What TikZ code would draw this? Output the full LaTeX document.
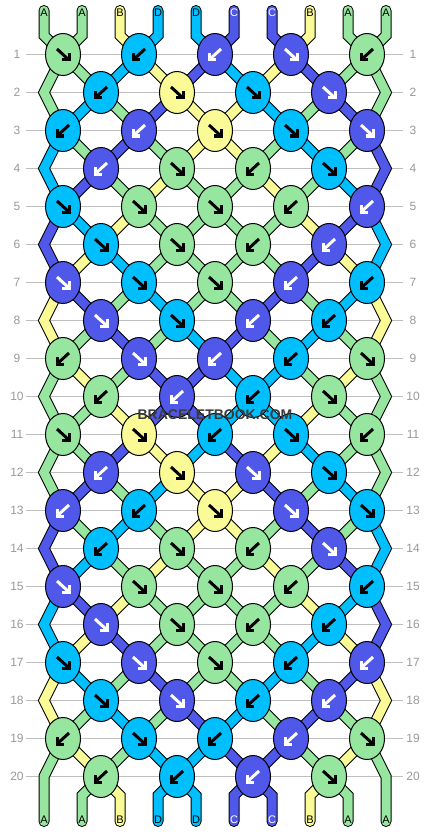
\documentclass[tikz,border=0pt]{standalone}
\usepackage{fontspec}
\setmainfont{Liberation Sans}
\usetikzlibrary{shapes.geometric}
\definecolor{colA}{HTML}{96E6A0}
\definecolor{colB}{HTML}{FAFA96}
\definecolor{colC}{HTML}{5058EA}
\definecolor{colD}{HTML}{00BFFF}
\definecolor{rowline}{HTML}{BEBEBE}
\definecolor{rowtext}{HTML}{999999}
\definecolor{wmtext}{HTML}{3A3A3A}
\tikzset{
  str/.style={line width=1pt, draw=black, double=#1, double distance=9pt, line join=miter, line cap=round},
  knot/.style={ellipse, draw=black, line width=1pt, minimum width=35pt, minimum height=42pt, inner sep=0pt},
  arrowline/.style={line width=3pt, line cap=butt, line join=miter},
  fwd/.pic={\draw[arrowline] (-6,-5.5) -- (4.8,4.4); \draw[arrowline] (-0.8,5.5) -- (6,5.5) -- (6,-1.3);},
  bwd/.pic={\draw[arrowline] (6,-5.5) -- (-4.8,4.4); \draw[arrowline] (0.8,5.5) -- (-6,5.5) -- (-6,-1.3);},
  rowlab/.style={text=rowtext, font=\fontsize{12}{14}\selectfont, inner sep=0pt},
  rowrule/.style={draw=rowline, line width=1pt},
  strlab/.style={font=\fontsize{11}{13}\selectfont, inner sep=0pt},
  wm/.style={font=\fontsize{14}{16}\selectfont\bfseries, inner sep=0pt}
}
\newcommand\segrow[2]{%
  \foreach \sc [count=\p from 0] in {#2} {%
    \ifnum\p>0 \ifnum\p<9
      \pgfmathtruncatemacro\segA{floor(\p/2)}%
      \pgfmathtruncatemacro\segB{floor((\p-1)/2)}%
      \pgfmathtruncatemacro\myrr{#1+1}%
      \ifodd#1 \draw[str=col\sc] (k-#1-\segA) -- (k-\myrr-\segB);
      \else \draw[str=col\sc] (k-#1-\segB) -- (k-\myrr-\segA);\fi
    \fi\fi
  }%
}
\newcommand\knotrow[2]{%
  \foreach \kc/\kd [count=\i from 0] in {#2} {%
    \node[knot, fill=col\kc] (n-#1-\i) at (k-#1-\i) {};
    \def\ac{black}\if C\kc\def\ac{white}\fi
    \if f\kd \pic[color=\ac] at (k-#1-\i) {fwd};\else \pic[color=\ac] at (k-#1-\i) {bwd};\fi
  }%
}
\begin{document}
\begin{tikzpicture}[x=1pt, y=-1pt]
\useasboundingbox (0,0) rectangle (430,832);
\fill[white] (0,0) rectangle (430,832);
% coordinates
\foreach \rw in {1,...,20} {
  \pgfmathsetmacro\yy{54.5+38*(\rw-1)}
  \ifodd\rw
    \foreach \i in {0,...,4} {\coordinate (k-\rw-\i) at ({63+76*\i},\yy);}
  \else
    \foreach \i in {0,...,3} {\coordinate (k-\rw-\i) at ({101+76*\i},\yy);}
  \fi
  \coordinate (eL-\rw) at (44,\yy);
  \coordinate (eR-\rw) at (386,\yy);
  \coordinate (rl-\rw) at (26,\yy);
  \coordinate (rr-\rw) at (403,\yy);
  \draw[rowrule] (rl-\rw) -- (rr-\rw);
  \node[rowlab] (labL-\rw) at (17,\yy) {\rw};
  \node[rowlab] (labR-\rw) at (413,\yy) {\rw};
}
\foreach \p in {0,...,9} {
  \coordinate (t-\p) at ({44+38*\p},10.5);
  \coordinate (tb-\p) at ({44+38*\p},35.5);
  \coordinate (bb-\p) at ({44+38*\p},795.5);
  \coordinate (b-\p) at ({44+38*\p},821.5);
}
% top strings
\foreach \sc [count=\p from 0] in {A,A,B,D,D,C,C,B,A,A} {
  \pgfmathtruncatemacro\segA{floor(\p/2)}
  \draw[str=col\sc] (t-\p) -- (tb-\p) -- (k-1-\segA);
}
% inner segments
\segrow{1}{A,A,D,B,C,D,B,C,A,A}
\segrow{2}{A,D,A,C,B,B,D,A,C,A}
\segrow{3}{D,A,C,A,B,B,A,D,A,C}
\segrow{4}{D,C,A,B,A,A,B,A,D,C}
\segrow{5}{C,D,B,A,A,A,A,B,C,D}
\segrow{6}{C,B,D,A,A,A,A,C,B,D}
\segrow{7}{B,C,A,D,A,A,C,A,D,B}
\segrow{8}{B,A,C,A,D,C,A,D,A,B}
\segrow{9}{A,B,A,C,C,D,D,A,B,A}
\segrow{10}{A,A,B,C,C,D,D,B,A,A}
\segrow{11}{A,A,C,B,D,C,B,D,A,A}
\segrow{12}{A,C,A,D,B,B,C,A,D,A}
\segrow{13}{C,A,D,A,B,B,A,C,A,D}
\segrow{14}{C,D,A,B,A,A,B,A,C,D}
\segrow{15}{D,C,B,A,A,A,A,B,D,C}
\segrow{16}{D,B,C,A,A,A,A,D,B,C}
\segrow{17}{B,D,A,C,A,A,D,A,C,B}
\segrow{18}{B,A,D,A,C,D,A,C,A,B}
\segrow{19}{A,B,A,D,D,C,C,A,B,A}
% edge strings
\foreach \rw/\lc/\rc in {1/A/A,3/D/C,5/C/D,7/B/B,9/A/A,11/A/A,13/C/D,15/D/C,17/B/B} {
  \pgfmathtruncatemacro\ra{\rw+1}
  \pgfmathtruncatemacro\rb{\rw+2}
  \draw[str=col\lc] (k-\rw-0) -- (eL-\ra) -- (k-\rb-0);
  \draw[str=col\rc] (k-\rw-4) -- (eR-\ra) -- (k-\rb-4);
}
\draw[str=colA] (k-19-0) -- (eL-20) -- (b-0);
\draw[str=colA] (k-19-4) -- (eR-20) -- (b-9);
% bottom strings
\foreach \sc [count=\p from 1] in {A,B,D,D,C,C,B,A} {
  \pgfmathtruncatemacro\segB{floor((\p-1)/2)}
  \draw[str=col\sc] (k-20-\segB) -- (bb-\p) -- (b-\p);
}
% knots
\knotrow{1}{A/f,D/b,C/b,C/f,A/b}
\knotrow{2}{D/b,B/f,D/f,C/f}
\knotrow{3}{D/b,C/b,B/f,D/f,C/f}
\knotrow{4}{C/b,A/f,A/b,D/f}
\knotrow{5}{D/f,A/f,A/f,A/b,C/b}
\knotrow{6}{D/f,A/f,A/b,C/b}
\knotrow{7}{C/f,D/f,A/f,C/b,D/b}
\knotrow{8}{C/f,D/f,C/b,D/b}
\knotrow{9}{A/b,C/f,C/b,D/b,A/f}
\knotrow{10}{A/b,C/b,D/b,A/f}
\knotrow{11}{A/f,B/f,D/b,D/f,A/b}
\knotrow{12}{C/b,B/f,C/f,D/f}
\knotrow{13}{C/b,D/b,B/f,C/f,D/f}
\knotrow{14}{D/b,A/f,A/b,C/f}
\knotrow{15}{C/f,A/f,A/f,A/b,D/b}
\knotrow{16}{C/f,A/f,A/b,D/b}
\knotrow{17}{D/f,C/f,A/f,D/b,C/b}
\knotrow{18}{D/f,C/f,D/b,C/b}
\knotrow{19}{A/b,D/f,D/b,C/b,A/f}
\knotrow{20}{A/b,D/b,C/b,A/f}
% string letters
\foreach \sc [count=\p from 0] in {A,A,B,D,D,C,C,B,A,A} {
  \def\ac{black}\if C\sc\def\ac{white}\fi
  \node[strlab, text=\ac] (top-\p) at ({44+38*\p},13) {\sc};
  \node[strlab, text=\ac] (bot-\p) at ({44+38*\p},819.5) {\sc};
}
% watermark: filled dark text with a thin light stroke (render mode 2)
\node[wm, text=wmtext] (wm) at (215,415) {\special{pdf:content 2 Tr 0.8 w 0.92 0.92 0.92 RG}BRACELETBOOK.COM\special{pdf:content 0 Tr}};
\end{tikzpicture}
\end{document}
